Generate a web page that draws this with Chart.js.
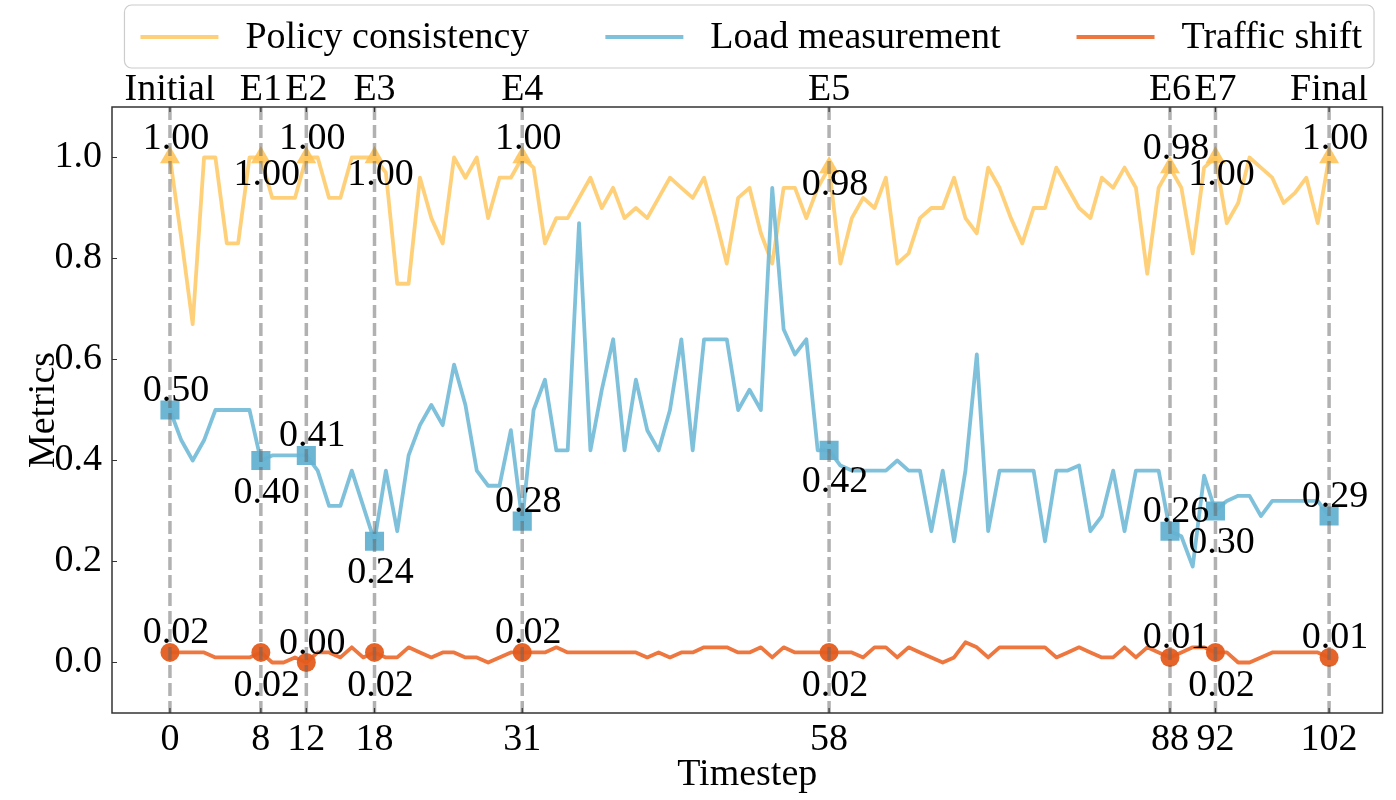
<!DOCTYPE html>
<html>
<head>
<meta charset="utf-8">
<script src="https://cdn.jsdelivr.net/npm/chart.js@4.4.1/dist/chart.umd.min.js"></script>
<style>
  html, body { margin: 0; padding: 0; background: #fff; }
  #wrap { width: 1396px; height: 800px; }
</style>
</head>
<body>
<div id="wrap"><canvas id="metricsChart" width="1396" height="800"></canvas></div>
<script>
'use strict'

// event timesteps and their names on the top axis
const eventSteps = [0, 8, 12, 18, 31, 58, 88, 92, 102];
const eventNames = ['Initial', 'E1', 'E2', 'E3', 'E4', 'E5', 'E6', 'E7', 'Final'];
const yTicks = [0.0, 0.2, 0.4, 0.6, 0.8, 1.0];
const seriesNames = ['Policy consistency', 'Load measurement', 'Traffic shift'];

// one value per timestep 0..102
const policyConsistency = [
    1.00, 0.84, 0.67, 1.00, 1.00, 0.83, 0.83, 1.00, 1.00, 0.92,
    0.92, 0.92, 1.00, 1.00, 0.92, 0.92, 1.00, 1.00, 1.00, 0.97,
    0.75, 0.75, 0.96, 0.88, 0.83, 1.00, 0.96, 1.00, 0.88, 0.96,
    0.96, 1.00, 0.98, 0.83, 0.88, 0.88, 0.92, 0.96, 0.90, 0.94,
    0.88, 0.90, 0.88, 0.92, 0.96, 0.94, 0.92, 0.96, 0.88, 0.79,
    0.92, 0.94, 0.85, 0.79, 0.94, 0.94, 0.88, 0.94, 0.98, 0.79,
    0.88, 0.92, 0.90, 0.96, 0.79, 0.81, 0.88, 0.90, 0.90, 0.96,
    0.88, 0.85, 0.98, 0.94, 0.88, 0.83, 0.90, 0.90, 0.98, 0.94,
    0.90, 0.88, 0.96, 0.94, 0.98, 0.94, 0.77, 0.94, 0.98, 0.94,
    0.81, 0.98, 1.00, 0.87, 0.91, 1.00, 0.98, 0.96, 0.91, 0.93,
    0.96, 0.87, 1.00
];
const loadMeasurement = [
    0.50, 0.44, 0.40, 0.44, 0.50, 0.50, 0.50, 0.50, 0.40, 0.41,
    0.41, 0.41, 0.41, 0.38, 0.31, 0.31, 0.38, 0.31, 0.24, 0.38,
    0.26, 0.41, 0.47, 0.51, 0.47, 0.59, 0.51, 0.38, 0.35, 0.35,
    0.46, 0.28, 0.50, 0.56, 0.42, 0.42, 0.87, 0.42, 0.54, 0.64,
    0.42, 0.56, 0.46, 0.42, 0.50, 0.64, 0.42, 0.64, 0.64, 0.64,
    0.50, 0.54, 0.50, 0.94, 0.66, 0.61, 0.64, 0.42, 0.42, 0.39,
    0.38, 0.38, 0.38, 0.38, 0.40, 0.38, 0.38, 0.26, 0.38, 0.24,
    0.38, 0.61, 0.26, 0.38, 0.38, 0.38, 0.38, 0.24, 0.38, 0.38,
    0.39, 0.26, 0.29, 0.38, 0.26, 0.38, 0.38, 0.38, 0.26, 0.25,
    0.19, 0.37, 0.30, 0.32, 0.33, 0.33, 0.29, 0.32, 0.32, 0.32,
    0.32, 0.32, 0.29
];
const trafficShift = [
    0.02, 0.02, 0.02, 0.02, 0.01, 0.01, 0.01, 0.01, 0.02, 0.00,
    0.00, 0.01, 0.00, 0.02, 0.02, 0.01, 0.03, 0.01, 0.02, 0.01,
    0.01, 0.03, 0.02, 0.01, 0.02, 0.02, 0.01, 0.01, 0.00, 0.01,
    0.02, 0.02, 0.02, 0.02, 0.03, 0.02, 0.02, 0.02, 0.02, 0.02,
    0.02, 0.02, 0.01, 0.02, 0.01, 0.02, 0.02, 0.03, 0.03, 0.03,
    0.02, 0.02, 0.03, 0.01, 0.03, 0.02, 0.02, 0.02, 0.02, 0.02,
    0.02, 0.01, 0.03, 0.03, 0.01, 0.03, 0.02, 0.01, 0.00, 0.01,
    0.04, 0.03, 0.01, 0.03, 0.03, 0.03, 0.03, 0.03, 0.01, 0.02,
    0.03, 0.02, 0.01, 0.01, 0.03, 0.01, 0.03, 0.02, 0.01, 0.02,
    0.03, 0.03, 0.02, 0.02, 0.00, 0.00, 0.01, 0.02, 0.02, 0.02,
    0.02, 0.02, 0.01
];

const FONT = "'Liberation Serif', 'Times New Roman', serif";
const FONT_SIZE = 38;
const toPoints = arr => arr.map((v, i) => ({ x: i, y: v }));
const isEvent = i => eventSteps.includes(i);

// distance of the "below" labels from the marker, per series
const belowOffset = [27, 42, 44];

function makeSeries(idx, values, lineColor, markColor, style, radius, order) {
    return {
        label: seriesNames[idx],
        data: toPoints(values),
        borderColor: lineColor,
        backgroundColor: lineColor,
        borderWidth: 3.8,
        borderJoinStyle: 'round',
        tension: 0,
        pointStyle: style,
        pointRadius: ctx => isEvent(ctx.dataIndex) ? radius : 0,
        pointHoverRadius: ctx => isEvent(ctx.dataIndex) ? radius : 0,
        pointBackgroundColor: markColor,
        pointBorderWidth: 0,
        order: order
    };
}

function drawLegend(chart) {
    const { ctx, chartArea: a } = chart;
    const handle = 78, gap = 27, colGap = 76;
    ctx.save();
    ctx.font = FONT_SIZE + 'px ' + FONT;
    const items = chart.data.datasets.map(ds => ({
        label: ds.label, color: ds.borderColor, w: ctx.measureText(ds.label).width
    }));
    const total = items.reduce((s, it) => s + handle + gap + it.w, 0) + colGap * (items.length - 1);
    let x = (a.left + a.right) / 2 - total / 2 + 4;
    const cy = 37;

    // frame
    const fx = x - 16, fy = 5, fw = total + 28, fh = 63, r = 7;
    ctx.beginPath();
    ctx.moveTo(fx + r, fy);
    ctx.arcTo(fx + fw, fy, fx + fw, fy + fh, r);
    ctx.arcTo(fx + fw, fy + fh, fx, fy + fh, r);
    ctx.arcTo(fx, fy + fh, fx, fy, r);
    ctx.arcTo(fx, fy, fx + fw, fy, r);
    ctx.closePath();
    ctx.fillStyle = 'rgba(255,255,255,0.8)';
    ctx.fill();
    ctx.strokeStyle = '#cccccc';
    ctx.lineWidth = 1.2;
    ctx.stroke();

    ctx.textAlign = 'left';
    ctx.textBaseline = 'middle';
    items.forEach(it => {
        ctx.strokeStyle = it.color;
        ctx.lineWidth = 3.8;
        ctx.beginPath();
        ctx.moveTo(x, cy);
        ctx.lineTo(x + handle, cy);
        ctx.stroke();
        ctx.fillStyle = '#000';
        ctx.fillText(it.label, x + handle + gap, cy + 1);
        x += handle + gap + it.w + colGap;
    });
    ctx.restore();
}

const eventOverlay = {
    id: 'eventOverlay',
    afterDatasetsDraw(chart) {
        const { ctx, chartArea: a, scales: { x } } = chart;
        ctx.save();
        // dashed markers for the events
        ctx.strokeStyle = 'rgba(100,100,100,0.5)';
        ctx.lineWidth = 3.5;
        ctx.setLineDash([13, 5]);
        eventSteps.forEach(s => {
            const px = x.getPixelForValue(s);
            ctx.beginPath();
            ctx.moveTo(px, a.top);
            ctx.lineTo(px, a.bottom);
            ctx.stroke();
        });
        ctx.setLineDash([]);

        // value labels, alternating above / below
        ctx.font = FONT_SIZE + 'px ' + FONT;
        ctx.fillStyle = '#000';
        ctx.textAlign = 'center';
        ctx.textBaseline = 'alphabetic';
        chart.data.datasets.forEach((ds, di) => {
            const meta = chart.getDatasetMeta(di);
            eventSteps.forEach((s, i) => {
                const pt = meta.data[s];
                const dy = (i % 2 === 1) ? belowOffset[di] : -9;
                ctx.fillText(ds.data[s].y.toFixed(2), pt.x + 6, pt.y + dy);
            });
        });
        ctx.restore();
    },
    afterDraw(chart) {
        const { ctx, chartArea: a, scales: { x, y } } = chart;
        ctx.save();
        ctx.strokeStyle = '#333';
        ctx.lineWidth = 1.5;
        ctx.strokeRect(a.left, a.top, a.right - a.left, a.bottom - a.top);
        // inward tick marks
        ctx.lineWidth = 1.2;
        ctx.beginPath();
        yTicks.forEach(v => {
            const py = y.getPixelForValue(v);
            ctx.moveTo(a.left, py);
            ctx.lineTo(a.left + 5, py);
        });
        eventSteps.forEach(s => {
            const px = x.getPixelForValue(s);
            ctx.moveTo(px, a.bottom);
            ctx.lineTo(px, a.bottom - 5);
            ctx.moveTo(px, a.top);
            ctx.lineTo(px, a.top + 5);
        });
        ctx.stroke();
        ctx.restore();
        drawLegend(chart);
    }
};

const axisFont = { family: FONT, size: FONT_SIZE };
const setEventTicks = s => { s.ticks = eventSteps.map(v => ({ value: v })); };

const metricsChart = new Chart(document.getElementById('metricsChart').getContext('2d'), {
    type: 'line',
    data: {
        datasets: [
            makeSeries(0, policyConsistency, 'rgba(255,205,115,0.95)', 'rgba(255,196,90,0.9)', 'triangle', 11.5, 3),
            makeSeries(1, loadMeasurement, 'rgba(120,190,216,0.95)', 'rgba(100,178,210,0.95)', 'rect', 13.5, 2),
            makeSeries(2, trafficShift, 'rgba(236,112,52,0.95)', 'rgba(228,92,30,0.95)', 'circle', 9.5, 1)
        ]
    },
    options: {
        responsive: false,
        animation: false,
        layout: { padding: { top: 75, right: 12, left: 0, bottom: 0 } },
        plugins: {
            legend: { display: false },
            tooltip: { enabled: false }
        },
        scales: {
            x: {
                type: 'linear',
                position: 'bottom',
                min: -5.1,
                max: 106.7,
                afterBuildTicks: setEventTicks,
                afterFit: s => { s.height = 87; },
                grid: { display: false, drawTicks: false },
                border: { display: false },
                ticks: {
                    autoSkip: false,
                    maxRotation: 0,
                    padding: 4,
                    color: '#000',
                    font: axisFont,
                    callback: v => String(v)
                },
                title: {
                    display: true,
                    text: 'Timestep',
                    color: '#000',
                    font: axisFont,
                    padding: { top: 0, bottom: 2 }
                }
            },
            x2: {
                type: 'linear',
                axis: 'x',
                position: 'top',
                min: -5.1,
                max: 106.7,
                afterBuildTicks: setEventTicks,
                afterFit: s => { s.height = 32; },
                grid: { display: false, drawTicks: false },
                border: { display: false },
                ticks: {
                    autoSkip: false,
                    maxRotation: 0,
                    padding: -6,
                    color: '#000',
                    font: axisFont,
                    callback: v => eventNames[eventSteps.indexOf(v)]
                }
            },
            y: {
                min: -0.1,
                max: 1.1,
                afterBuildTicks: s => { s.ticks = yTicks.map(v => ({ value: v })); },
                afterFit: s => { s.width = 112; },
                grid: { display: false, drawTicks: false },
                border: { display: false },
                ticks: {
                    padding: 10,
                    color: '#000',
                    font: axisFont,
                    callback: v => v.toFixed(1)
                },
                title: {
                    display: true,
                    text: 'Metrics',
                    color: '#000',
                    font: axisFont,
                    padding: { top: 21, bottom: 0 }
                }
            }
        }
    },
    plugins: [eventOverlay]
});
</script>
</body>
</html>
